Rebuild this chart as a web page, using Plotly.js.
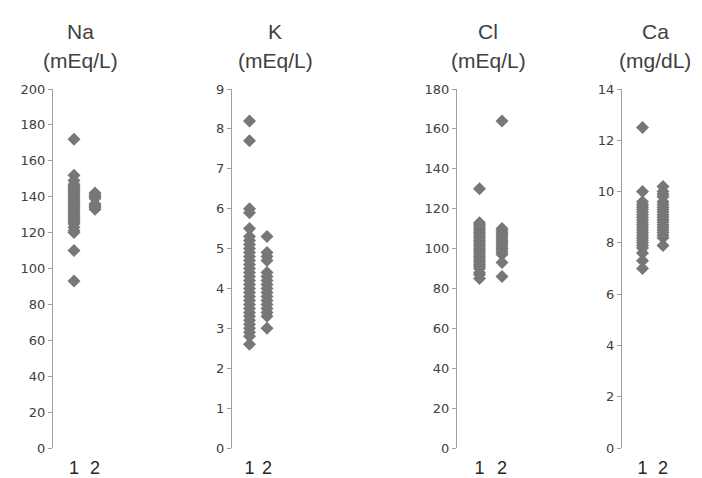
<!DOCTYPE html>
<html>
<head>
<meta charset="utf-8">
<script src="https://cdn.plot.ly/plotly-3.0.1.min.js"></script>
<style>
  html, body { margin: 0; padding: 0; background: #ffffff; }
  #chart { width: 702px; height: 478px; }
</style>
</head>
<body>
<div id="chart"></div>
<script>
// Group labels on each panel's horizontal axis
const categories = ['1', '2'];

// Panel headings
const analytes = ['Na', 'K', 'Cl', 'Ca'];
const units = ['(mEq/L)', '(mEq/L)', '(mEq/L)', '(mg/dL)'];

// Sodium (mEq/L)
const naGroup1 = [93, 110, 120, 121, 123, 125, 126, 127, 128, 129, 130, 131, 132, 133, 134, 135,
                  136, 137, 138, 139, 140, 141, 142, 143, 144, 145, 146, 147, 149, 152, 172];
const naGroup2 = [133, 134, 135, 136, 139, 140, 141, 142];

// Potassium (mEq/L)
const kGroup1 = [2.6, 2.8, 2.9, 3.0, 3.1, 3.2, 3.3, 3.4, 3.5, 3.6, 3.7, 3.8, 3.9, 4.0, 4.1, 4.2,
                 4.3, 4.4, 4.5, 4.6, 4.7, 4.8, 4.9, 5.0, 5.1, 5.2, 5.3, 5.5, 5.9, 6.0, 7.7, 8.2];
const kGroup2 = [3.0, 3.3, 3.4, 3.5, 3.6, 3.7, 3.8, 3.9, 4.0, 4.1, 4.2, 4.3, 4.4, 4.7, 4.8, 4.9, 5.3];

// Chloride (mEq/L)
const clGroup1 = [85, 87, 88, 90, 91, 92, 93, 94, 95, 96, 97, 98, 99, 100, 101, 102, 103, 104,
                  105, 106, 107, 108, 109, 110, 111, 112, 113, 130];
const clGroup2 = [86, 93, 97, 98, 99, 100, 101, 102, 103, 104, 105, 106, 107, 108, 109, 110, 164];

// Calcium (mg/dL)
const caGroup1 = [7.0, 7.3, 7.6, 7.8, 7.9, 8.0, 8.1, 8.2, 8.3, 8.4, 8.5, 8.6, 8.7, 8.8, 8.9,
                  9.0, 9.1, 9.2, 9.3, 9.4, 9.5, 9.6, 10.0, 12.5];
const caGroup2 = [7.9, 8.2, 8.3, 8.4, 8.5, 8.6, 8.7, 8.8, 8.9, 9.0, 9.1, 9.2, 9.3, 9.4, 9.5,
                  9.6, 9.8, 9.9, 10.0, 10.2];

// Axis scales for each panel
const yMax = [200, 9, 180, 14];
const yStep = [20, 1, 20, 2];

const groups = [
  [naGroup1, naGroup2],
  [kGroup1, kGroup2],
  [clGroup1, clGroup2],
  [caGroup1, caGroup2]
];

const W = 702, H = 478;
// pixel placement of each panel: left edge (vertical axis) and width of the x range [0, 3]
const panelLeft = [53, 232, 457, 622];
const panelWidth = [63, 52.5, 67.5, 61.5];
const headingX = [80, 275, 488, 655];
const plotTop = 89, plotBottom = 448;

const markerStyle = { symbol: 'diamond', size: 10, color: '#777777', line: { width: 0 } };

const traces = [];
groups.forEach((pair, p) => {
  const ax = p === 0 ? '' : String(p + 1);
  pair.forEach((vals, g) => {
    traces.push({
      type: 'scatter',
      mode: 'markers',
      x: vals.map(() => Number(categories[g])),
      y: vals,
      xaxis: 'x' + ax,
      yaxis: 'y' + ax,
      marker: markerStyle,
      showlegend: false,
      hoverinfo: 'skip'
    });
  });
});

const layout = {
  width: W,
  height: H,
  margin: { l: 0, r: 0, t: 0, b: 0 },
  paper_bgcolor: '#ffffff',
  plot_bgcolor: 'rgba(0,0,0,0)',
  font: { family: 'Liberation Sans, Arial, sans-serif', color: '#404040' },
  hovermode: false,
  annotations: []
};

const yDomain = [1 - plotBottom / H, 1 - plotTop / H];

analytes.forEach((name, p) => {
  const ax = p === 0 ? '' : String(p + 1);
  layout['xaxis' + ax] = {
    domain: [panelLeft[p] / W, (panelLeft[p] + panelWidth[p]) / W],
    range: [0, 3],
    showline: false,
    showgrid: false,
    zeroline: false,
    tickmode: 'array',
    tickvals: categories.map(Number),
    ticktext: categories,
    ticks: 'outside',
    ticklen: 3,
    tickcolor: 'rgba(0,0,0,0)',
    tickfont: { size: 18, color: '#262626', family: 'Liberation Sans, Arial, sans-serif' },
    anchor: 'y' + ax,
    fixedrange: true
  };
  layout['yaxis' + ax] = {
    domain: yDomain,
    range: [0, yMax[p]],
    dtick: yStep[p],
    tick0: 0,
    showline: true,
    linecolor: '#a0a0a0',
    linewidth: 1,
    showgrid: false,
    zeroline: false,
    ticks: 'outside',
    ticklen: 4,
    tickcolor: '#a0a0a0',
    tickfont: { size: 13, color: '#404040', family: 'DejaVu Sans, sans-serif' },
    anchor: 'x' + ax,
    fixedrange: true
  };
  layout.annotations.push({
    xref: 'paper', yref: 'paper',
    x: headingX[p] / W, y: 1 - 32 / H,
    text: name, showarrow: false,
    xanchor: 'center', yanchor: 'middle',
    font: { size: 21, color: '#404040' }
  });
  layout.annotations.push({
    xref: 'paper', yref: 'paper',
    x: headingX[p] / W, y: 1 - 61 / H,
    text: units[p], showarrow: false,
    xanchor: 'center', yanchor: 'middle',
    font: { size: 21, color: '#404040' }
  });
});

Plotly.newPlot('chart', traces, layout, { staticPlot: true, displayModeBar: false });
</script>
</body>
</html>
